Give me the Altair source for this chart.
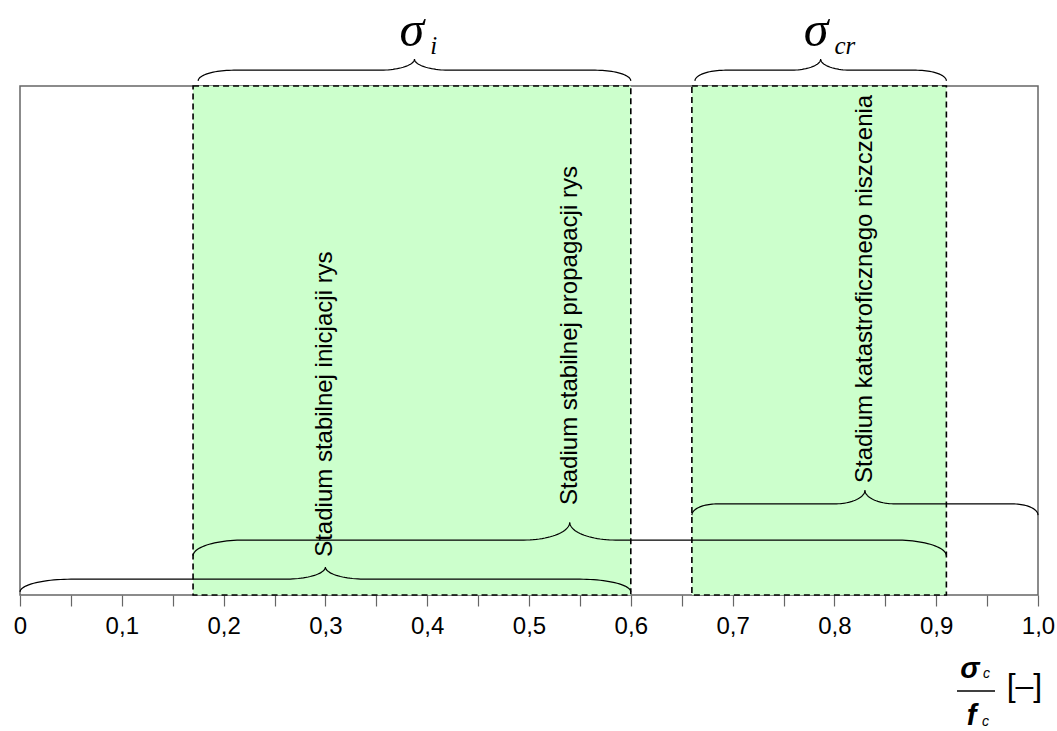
import altair as alt
import pandas as pd
import numpy as np

# ---- data ----
zone_start = [0.17, 0.66]
zone_end = [0.60, 0.91]

stage_text = ["Stadium stabilnej inicjacji rys",
              "Stadium stabilnej propagacji rys",
              "Stadium katastroficznego niszczenia"]
stage_x = [0.30, 0.54, 0.83]
stage_y = [0.075, 0.177, 0.22]

brace_x0 = [0.0, 0.17, 0.66, 0.175, 0.663]
brace_x1 = [0.60, 0.91, 1.0, 0.60, 0.91]
brace_end = [0.006, 0.077, 0.157, 1.010, 1.010]
brace_flat = [0.031, 0.108, 0.179, 1.031, 1.031]
brace_tip = [0.055, 0.143, 0.206, 1.053, 1.053]
brace_wend = [0.05, 0.05, 0.025, 0.035, 0.03]
brace_wtip = [0.04, 0.045, 0.03, 0.035, 0.03]

tick_values = [0, 0.05, 0.1, 0.15, 0.2, 0.25, 0.3, 0.35, 0.4, 0.45, 0.5,
               0.55, 0.6, 0.65, 0.7, 0.75, 0.8, 0.85, 0.9, 0.95, 1.0]
tick_labels = ["0", "", "0,1", "", "0,2", "", "0,3", "", "0,4", "", "0,5",
               "", "0,6", "", "0,7", "", "0,8", "", "0,9", "", "1,0"]

sigma_main = ["σ", "σ"]
sigma_sub = ["i", "cr"]
sigma_x = [0.385, 0.782]
sigma_sub_x = [0.403, 0.800]
sigma_y = 1.078
sigma_sub_y = 1.063

FONT = "Liberation Sans"

# ---- tables ----
zones = pd.DataFrame({"x0": zone_start, "x1": zone_end, "y0": [0.0, 0.0], "y1": [1.0, 1.0]})
stages = pd.DataFrame({"t": stage_text, "x": stage_x, "y": stage_y})


def brace_points(x0, x1, ye, yf, yt, we, wt, n=24):
    xm = (x0 + x1) / 2
    t = np.linspace(0, np.pi / 2, n)
    lx = np.concatenate([x0 + we * (1 - np.cos(t)), xm - wt + wt * np.sin(t)])
    ly = np.concatenate([ye + (yf - ye) * np.sin(t), yf + (yt - yf) * (1 - np.cos(t))])
    rx = (x0 + x1) - lx[::-1][1:]
    ry = ly[::-1][1:]
    return np.concatenate([lx, rx]), np.concatenate([ly, ry])


rows = []
for b in range(len(brace_x0)):
    bx, by = brace_points(brace_x0[b], brace_x1[b], brace_end[b], brace_flat[b],
                          brace_tip[b], brace_wend[b], brace_wtip[b])
    for i, (xx, yy) in enumerate(zip(bx, by)):
        rows.append({"b": b, "i": i, "x": xx, "y": yy})
braces = pd.DataFrame(rows)

xscale = alt.Scale(domain=[0, 1], nice=False, zero=False)
yscale = alt.Scale(domain=[0, 1], nice=False, zero=False)

label_map = "{" + ", ".join(f"'{('%g' % v)}': '{l}'" for v, l in zip(tick_values, tick_labels)) + "}"

xaxis = alt.Axis(values=tick_values, labelExpr=label_map + "[''+datum.value]",
                 title=None, grid=False, domain=False, ticks=True, tickSize=11,
                 tickColor="#666666", tickWidth=1.2, labelFont=FONT, labelFontSize=24,
                 labelColor="black", labelPadding=8, labelOverlap=False, labelFlush=False)

base = alt.Chart(zones)

rects = base.mark_rect(fill="#ccffcc", stroke="black", strokeDash=[6, 4],
                       strokeWidth=1.6).encode(
    x=alt.X("x0:Q", scale=xscale, axis=xaxis),
    x2="x1",
    y=alt.Y("y0:Q", scale=yscale, axis=None),
    y2="y1",
)

brace_lines = alt.Chart(braces).mark_line(color="black", strokeWidth=1.2).encode(
    x=alt.X("x:Q", scale=xscale),
    y=alt.Y("y:Q", scale=yscale),
    detail="b:N",
    order="i:Q",
)

stage_labels = alt.Chart(stages).mark_text(angle=270, align="left", baseline="middle",
                                           font=FONT, fontSize=24, color="black").encode(
    x=alt.X("x:Q", scale=xscale), y=alt.Y("y:Q", scale=yscale), text="t:N")

sig = pd.DataFrame({"t": sigma_main, "x": sigma_x, "y": [sigma_y] * 2})
sigsub = pd.DataFrame({"t": sigma_sub, "x": sigma_sub_x, "y": [sigma_sub_y] * 2})

sigma_text = alt.Chart(sig).mark_text(font="Liberation Serif", fontStyle="italic",
                                      fontSize=50, align="center", baseline="alphabetic",
                                      color="black").encode(
    x=alt.X("x:Q", scale=xscale), y=alt.Y("y:Q", scale=yscale), text="t:N")
sigma_subtext = alt.Chart(sigsub).mark_text(font="Liberation Serif", fontStyle="italic",
                                            fontSize=25, align="left", baseline="alphabetic",
                                            color="black").encode(
    x=alt.X("x:Q", scale=xscale), y=alt.Y("y:Q", scale=yscale), text="t:N")

# axis title: sigma_c / f_c [-]
frac_main = pd.DataFrame({"t": ["σ", "f"], "x": [0.9332, 0.9347], "y": [-0.163, -0.2554]})
frac_sub = pd.DataFrame({"t": ["c", "c"], "x": [0.946, 0.945], "y": [-0.163, -0.2575]})
frac_bar = pd.DataFrame({"x": [0.9204], "x2": [0.9578], "y": [-0.1886]})
frac_unit = pd.DataFrame({"t": ["[–]"], "x": [0.9867], "y": [-0.198]})

frac_text = alt.Chart(frac_main).mark_text(font=FONT, fontStyle="italic", fontWeight="bold",
                                           fontSize=29, align="center", baseline="alphabetic",
                                           color="black").encode(
    x=alt.X("x:Q", scale=xscale), y=alt.Y("y:Q", scale=yscale), text="t:N")
frac_subtext = alt.Chart(frac_sub).mark_text(font=FONT, fontStyle="italic",
                                             fontSize=14, align="left", baseline="alphabetic",
                                             color="black").encode(
    x=alt.X("x:Q", scale=xscale), y=alt.Y("y:Q", scale=yscale), text="t:N")
frac_rule = alt.Chart(frac_bar).mark_rule(color="black", strokeWidth=1.5).encode(
    x=alt.X("x:Q", scale=xscale), x2="x2", y=alt.Y("y:Q", scale=yscale))
unit_text = alt.Chart(frac_unit).mark_text(font=FONT, fontSize=32, align="center",
                                           baseline="alphabetic", color="black").encode(
    x=alt.X("x:Q", scale=xscale), y=alt.Y("y:Q", scale=yscale), text="t:N")

chart = alt.layer(
    rects, brace_lines, stage_labels, sigma_text, sigma_subtext,
    frac_text, frac_subtext, frac_rule, unit_text
).properties(
    width=1018, height=509,
    autosize=alt.AutoSizeParams(type="none"),
    padding={"left": 20, "top": 86, "right": 19, "bottom": 136},
    background="white",
).configure_view(stroke="#666666", strokeWidth=1.5)

chart.save("out.html", embed_options={"renderer": "svg", "actions": False})
